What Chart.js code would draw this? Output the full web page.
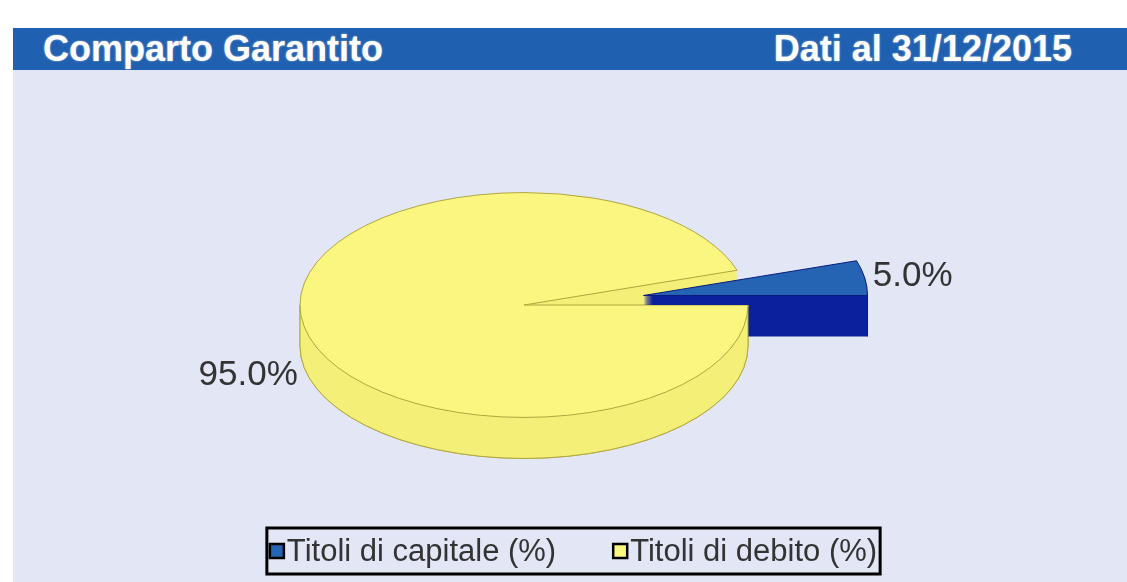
<!DOCTYPE html>
<html>
<head>
<meta charset="utf-8">
<script src="https://cdn.jsdelivr.net/npm/chart.js@4/dist/chart.umd.min.js"></script>
<style>
  body { margin: 0; width: 1127px; height: 582px; overflow: hidden; background: #fff; position: relative;
         font-family: "Liberation Sans", Arial, sans-serif; }
  #panel { position: absolute; left: 13px; top: 70px; right: 0; bottom: 0; background: #e2e6f5; }
  #header { position: absolute; left: 13px; top: 28px; right: 0; height: 42px; background: #2060b0;
            color: #fff; font-weight: bold; font-size: 36px; line-height: 42px;
            text-shadow: 0 0 2px rgba(255,255,255,0.6); }
  #header .l { position: absolute; left: 30px; }
  #header .r { position: absolute; right: 55px; }
  canvas { position: absolute; left: 0; top: 0; }
</style>
</head>
<body>
<div id="panel"></div>
<div id="header"><span class="l">Comparto Garantito</span><span class="r">Dati al 31/12/2015</span></div>
<canvas id="pie" width="1127" height="582"></canvas>
<script>
const categories = ['Titoli di capitale (%)', 'Titoli di debito (%)'];
const values = [5.0, 95.0];
const valueLabels = ['5.0%', '95.0%'];

const TILT = 0.502;   // vertical squash of the pie
const DEPTH = 41;     // thickness in px
const sideColors = ['#0b209c', '#f4ef78'];
const edgeColors = ['#0a1a80', '#b0a640'];

function sliceCenter(a) {
  const mid = (a.startAngle + a.endAngle) / 2;
  const off = a.options.offset || 0;
  return { x: a.x + Math.cos(mid) * off, y: a.y + Math.sin(mid) * off * TILT };
}

// path of one slice, squashed, moved down by dy screen px
function slicePath(ctx, a, dy) {
  const c = sliceCenter(a);
  ctx.save();
  ctx.translate(c.x, c.y + dy);
  ctx.scale(1, TILT);
  ctx.beginPath();
  ctx.moveTo(0, 0);
  ctx.arc(0, 0, a.outerRadius, a.startAngle, a.endAngle);
  ctx.closePath();
  ctx.restore();
}

// outline of the visible (front) bottom rim and the silhouette edges
function strokeRim(ctx, a) {
  const c = sliceCenter(a);
  const r = a.outerRadius;
  for (const base of [0, 2 * Math.PI]) {
    const s = Math.max(a.startAngle, base), e = Math.min(a.endAngle, base + Math.PI);
    if (e <= s) continue;
    ctx.save();
    ctx.translate(c.x, c.y + DEPTH);
    ctx.scale(1, TILT);
    ctx.beginPath();
    ctx.arc(0, 0, r, s, e);
    ctx.restore();
    ctx.stroke();
  }
  for (const ang of [0, Math.PI, 2 * Math.PI]) {
    if (ang >= a.startAngle && ang <= a.endAngle) {
      const x = c.x + Math.cos(ang) * r;
      ctx.beginPath();
      ctx.moveTo(x, c.y);
      ctx.lineTo(x, c.y + DEPTH);
      ctx.stroke();
    }
  }
}

function drawSlice(ctx, a, i) {
  ctx.fillStyle = sideColors[i];
  for (let d = DEPTH; d >= 1; d--) {
    slicePath(ctx, a, d);
    ctx.fill();
  }
  ctx.lineWidth = 1;
  ctx.strokeStyle = edgeColors[i];
  strokeRim(ctx, a);
  slicePath(ctx, a, 0);
  ctx.fillStyle = a.options.backgroundColor;
  ctx.fill();
  ctx.stroke();
}

const pie3d = {
  id: 'pie3d',
  beforeDatasetsDraw(chart) {
    const ctx = chart.ctx;
    const arcs = chart.getDatasetMeta(0).data;
    const cy = arcs[1].y;
    ctx.save();
    drawSlice(ctx, arcs[1], 1);
    drawSlice(ctx, arcs[0], 0);
    // front half of the big slice sits in front of the exploded one
    ctx.beginPath();
    ctx.rect(0, cy, chart.width, chart.height - cy);
    ctx.clip();
    drawSlice(ctx, arcs[1], 1);
    ctx.restore();
    return false;
  },
  afterDraw(chart) {
    const ctx = chart.ctx;
    const arcs = chart.getDatasetMeta(0).data;
    ctx.save();
    // value labels
    ctx.font = '35px "Liberation Sans", Arial, sans-serif';
    ctx.fillStyle = '#333';
    ctx.textBaseline = 'middle';
    arcs.forEach((a, i) => {
      const mid = (a.startAngle + a.endAngle) / 2;
      const c = sliceCenter(a);
      const rx = c.x + Math.cos(mid) * a.outerRadius;
      const ry = c.y + Math.sin(mid) * a.outerRadius * TILT;
      const right = Math.cos(mid) >= 0;
      ctx.textAlign = right ? 'left' : 'right';
      const y = Math.sin(mid) > 0 ? ry + DEPTH + 12 : ry - 2;
      ctx.fillText(valueLabels[i], rx + (right ? 8 : -5), y);
    });
    // legend with a frame
    ctx.font = '31px "Liberation Sans", Arial, sans-serif';
    ctx.textAlign = 'left';
    const sq = 14, gapT = 3, gapI = 57, pad = 3, top = 528, h = 46;
    const widths = categories.map(c => ctx.measureText(c).width);
    const total = widths.reduce((s, w) => s + sq + gapT + w, 0) + gapI * (categories.length - 1);
    const left = 573.5 - total / 2 - pad;
    ctx.lineWidth = 3;
    ctx.strokeStyle = '#000';
    ctx.strokeRect(left, top, total + pad * 2, h);
    let x = left + pad;
    const colors = chart.data.datasets[0].backgroundColor;
    categories.forEach((c, i) => {
      ctx.fillStyle = colors[i];
      ctx.fillRect(x, top + 16, sq, sq);
      ctx.lineWidth = 2.5;
      ctx.strokeRect(x, top + 16, sq, sq);
      ctx.fillStyle = '#333';
      ctx.fillText(c, x + sq + gapT, top + h / 2 + 1);
      x += sq + gapT + widths[i] + gapI;
    });
    ctx.restore();
  }
};

new Chart(document.getElementById('pie'), {
  type: 'pie',
  data: {
    labels: categories,
    datasets: [{
      data: values,
      backgroundColor: ['#2563b3', '#faf67f'],
      borderWidth: 0,
      offset: [121, 0]
    }]
  },
  options: {
    responsive: false,
    animation: false,
    radius: 224,
    rotation: 72,
    layout: { padding: { left: 0, right: 79, top: 28, bottom: 0 } },
    plugins: {
      legend: { display: false },
      tooltip: { enabled: false }
    }
  },
  plugins: [pie3d]
});
</script>
</body>
</html>
